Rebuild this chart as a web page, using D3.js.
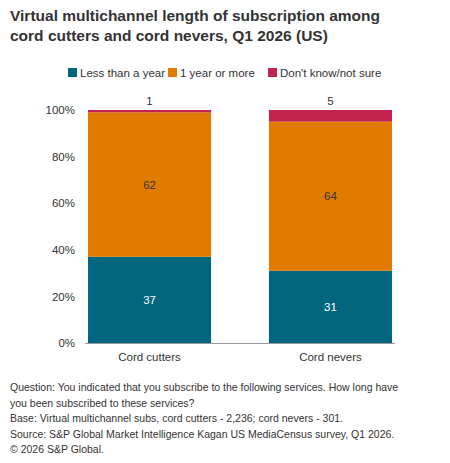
<!DOCTYPE html><html><head><meta charset="utf-8"><script src="https://cdn.jsdelivr.net/npm/d3@7"></script>
<style>body{margin:0;background:#fff;font-family:"Liberation Sans",Arial,sans-serif}</style></head><body><svg id="c" width="450" height="463"></svg>
<script>
const categories=["Cord cutters","Cord nevers"];
const seriesNames=["Less than a year","1 year or more","Don't know/not sure"];
const lessThanYear=[37,31];
const oneYearOrMore=[62,64];
const dontKnow=[1,5];
const colors=["#00677f","#e07b00","#c4224e"];
const yTicks=[0,20,40,60,80,100];
const svg=d3.select("#c");
svg.append("text").attr("x",10).attr("y",21).attr("font-size",15.5).attr("font-weight","bold").attr("fill","#333").text("Virtual multichannel length of subscription among");
svg.append("text").attr("x",10).attr("y",41).attr("font-size",15.5).attr("font-weight","bold").attr("fill","#333").text("cord cutters and cord nevers, Q1 2026 (US)");
const lg=[[68,seriesNames[0]],[168,seriesNames[1]],[268,seriesNames[2]]];
lg.forEach((d,i)=>{svg.append("rect").attr("x",d[0]).attr("y",68).attr("width",9).attr("height",9).attr("fill",colors[i]);
svg.append("text").attr("x",d[0]+12).attr("y",77).attr("font-size",11.5).attr("fill","#333").text(d[1]);});
const x=d3.scaleBand().domain(categories).range([88,392]).paddingInner(0.32).paddingOuter(0);
const y=d3.scaleLinear().domain([0,100]).range([343,110]);
const series=[lessThanYear,oneYearOrMore,dontKnow];
const data=categories.map((c,i)=>({cat:c,s0:series[0][i],s1:series[1][i],s2:series[2][i]}));
const stack=d3.stack().keys(["s0","s1","s2"])(data);
svg.append("g").attr("transform","translate(85,0)").call(d3.axisLeft(y).tickValues(yTicks).tickFormat(d=>d+"%").tickSize(0).tickPadding(10))
 .call(g=>g.select(".domain").remove()).selectAll("text").attr("font-size",11.5).attr("fill","#333").attr("font-family","Liberation Sans, Arial");
stack.forEach((layer,k)=>{
 svg.selectAll(null).data(layer).enter().append("rect").attr("x",d=>x(d.data.cat)).attr("width",x.bandwidth())
  .attr("y",d=>y(d[1])).attr("height",d=>y(d[0])-y(d[1])).attr("fill",colors[k]);
 svg.selectAll(null).data(layer).enter().append("text").attr("x",d=>x(d.data.cat)+x.bandwidth()/2)
  .attr("y",d=>k==2?y(d[1])-5:(y(d[0])+y(d[1]))/2+4).attr("text-anchor","middle").attr("font-size",11.5)
  .attr("fill",k==0?"#fff":"#333").text(d=>d[1]-d[0]);
});
svg.append("line").attr("x1",85).attr("x2",395).attr("y1",343.5).attr("y2",343.5).attr("stroke","#999");
svg.append("g").attr("transform","translate(0,343)").call(d3.axisBottom(x).tickSize(0).tickPadding(10))
 .call(g=>g.select(".domain").remove()).selectAll("text").attr("font-size",11.5).attr("fill","#333").attr("font-family","Liberation Sans, Arial");
const notes=["Question: You indicated that you subscribe to the following services. How long have","you been subscribed to these services?","Base: Virtual multichannel subs, cord cutters - 2,236; cord nevers - 301.","Source: S&P Global Market Intelligence Kagan US MediaCensus survey, Q1 2026.","© 2026 S&P Global."];
notes.forEach((t,i)=>svg.append("text").attr("x",10).attr("y",391+i*15.5).attr("font-size",10.5).attr("fill","#333").text(t));
</script></body></html>
